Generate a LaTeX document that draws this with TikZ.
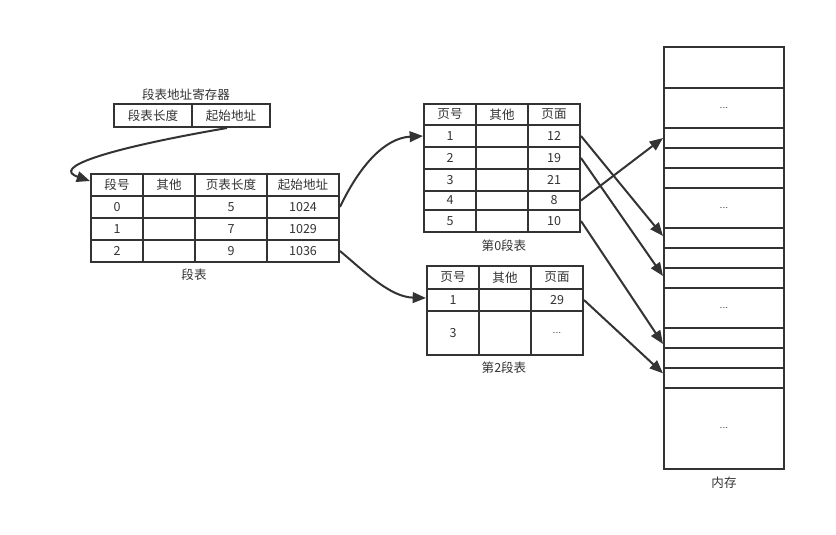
\documentclass[tikz,border=0pt]{standalone}
\usepackage{fontspec}
\newfontfamily\cjk{Noto Sans CJK SC}
\usetikzlibrary{arrows.meta}
\definecolor{ink}{HTML}{333333}
\def\pxu{0.75pt}
\newcommand\moredots{{\fontsize{6.5}{8}\selectfont .\kern0.4pt.\kern0.4pt.}}
\tikzset{
  cell/.style={draw=ink, line width=1.5pt, inner sep=0pt, text=ink,
    font=\cjk\fontsize{9.4}{11}\selectfont},
  slot/.style={cell, minimum width=120*\pxu},
  lbl/.style={inner sep=0pt, text=ink, font=\cjk\fontsize{9.4}{11}\selectfont},
  arr/.style={draw=ink, line width=1.5pt, -{Triangle[length=10pt,width=8pt]}},
}
\begin{document}
\begin{tikzpicture}[x=0.75pt,y=-0.75pt]
\useasboundingbox (0,0) rectangle (836,535);

% segment table base register
\node[lbl] (reglbl) at (186,95) {段表地址寄存器};
\node[cell, minimum width=78*\pxu, minimum height=23*\pxu] (reg1) at (153,115.5) {段表长度};
\node[cell, minimum width=78*\pxu, minimum height=23*\pxu] (reg2) at (231,115.5) {起始地址};

% segment table
\foreach \r/\cy/\a/\b/\c/\d in {0/185/段号/其他/页表长度/起始地址, 1/207/0/{}/5/1024, 2/229/1/{}/7/1029, 3/251/2/{}/9/1036}{
  \node[cell, minimum width=52*\pxu, minimum height=22*\pxu] (s\r-1) at (117,\cy) {\a};
  \node[cell, minimum width=52*\pxu, minimum height=22*\pxu] (s\r-2) at (169,\cy) {\b};
  \node[cell, minimum width=72*\pxu, minimum height=22*\pxu] (s\r-3) at (231,\cy) {\c};
  \node[cell, minimum width=72*\pxu, minimum height=22*\pxu] (s\r-4) at (303,\cy) {\d};
}
\node[lbl] (segname) at (194,275) {段表};

% page table of segment 0
\foreach \r/\cy/\h/\a/\c in {0/114.5/21/页号/页面, 1/136/22/1/12, 2/158/22/2/19, 3/180/22/3/21, 4/200.5/19/4/8, 5/221/22/5/10}{
  \node[cell, minimum width=52*\pxu, minimum height=\h*\pxu] (p\r-1) at (450,\cy) {\a};
  \node[cell, minimum width=52*\pxu, minimum height=\h*\pxu] (p\r-2) at (502,\cy) {\ifnum\r=0 其他\fi};
  \node[cell, minimum width=52*\pxu, minimum height=\h*\pxu] (p\r-3) at (554,\cy) {\c};
}
\node[lbl] (p0name) at (504,246) {第0段表};

% page table of segment 2
\foreach \r/\cy/\h/\a/\b/\c in {0/277.5/23/页号/其他/页面, 1/300/22/1/{}/29, 2/333/44/3/{}/\moredots}{
  \node[cell, minimum width=52*\pxu, minimum height=\h*\pxu] (q\r-1) at (453,\cy) {\a};
  \node[cell, minimum width=52*\pxu, minimum height=\h*\pxu] (q\r-2) at (505,\cy) {\b};
  \node[cell, minimum width=52*\pxu, minimum height=\h*\pxu] (q\r-3) at (557,\cy) {\c};
}
\node[lbl] (p2name) at (504,368) {第2段表};

% main memory frames
\foreach \i/\cy/\h/\t in {1/67.5/41/{}, 2/108/40/\moredots, 3/138/20/{}, 4/158/20/{}, 5/178/20/{},
  6/208/40/\moredots, 7/238/20/{}, 8/258/20/{}, 9/278/20/{}, 10/308/40/\moredots, 11/338/20/{},
  12/358/20/{}, 13/378/20/{}, 14/428.5/81/\moredots}{
  \node[slot, minimum height=\h*\pxu] (m\i) at (724,\cy) {\t};
}
\node[lbl] (memname) at (724,483) {内存};

% register -> segment table
\draw[arr] ([xshift=-3pt]reg2.south) .. controls (100,150) and (52,168) .. ([yshift=3pt]s0-1.west);
% segment table -> page tables
\draw[arr] (s1-4.east) .. controls (360,165) and (385,138) .. (p1-1.west);
\draw[arr] (s3-4.east) .. controls (365,272) and (390,297) .. ([yshift=1.5pt]q1-1.west);
% page tables -> memory frames
\draw[arr] (p1-3.east) -- ([yshift=1.5pt]m7.west);
\draw[arr] (p2-3.east) -- ([yshift=1.5pt]m9.west);
\draw[arr] (p4-3.east) -- (m3.west);
\draw[arr] (p5-3.east) -- ([yshift=-4.5pt]m11.west);
\draw[arr] (q1-3.east) -- ([yshift=3.5pt]m13.west);
\end{tikzpicture}
\end{document}
